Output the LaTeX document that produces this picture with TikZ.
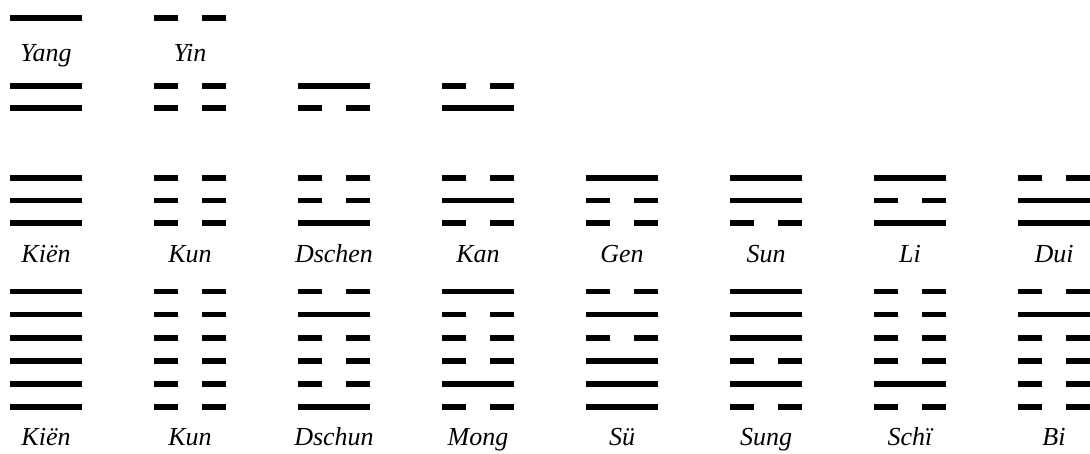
\documentclass[tikz,border=0pt]{standalone}
\usepackage{fontspec}
\setmainfont{Liberation Serif}
\tikzset{
  bar/.style={line width=5.6pt, line cap=butt, black},
  lab/.style={font=\fontsize{26}{29}\selectfont\itshape, inner sep=0pt, anchor=base}
}
\newcommand\gualine[3]{%
  \ifnum#3=1
    \draw[bar] (#1,#2) -- ++(72,0);
  \else
    \draw[bar] (#1,#2) -- ++(24,0);
    \draw[bar] (#1+48,#2) -- ++(24,0);
  \fi}
\begin{document}
\begin{tikzpicture}[x=1pt,y=-1pt]
\useasboundingbox (0,0) rectangle (1090,453);
% row 1: single lines
\gualine{10}{18}{1}
\gualine{154}{18}{0}
\node[lab] (yang) at (46,61) {Yang};
\node[lab] (yin) at (190,61) {Yin};
% row 2: digrams
\foreach \pat [count=\c from 0] in {{1,1},{0,0},{1,0},{0,1}}{
  \foreach \t [count=\i from 0] in \pat {\gualine{10+144*\c}{86+22*\i}{\t}}
}
% row 3: trigrams
\foreach \pat [count=\c from 0] in {{1,1,1},{0,0,0},{0,0,1},{0,1,0},{1,0,0},{1,1,0},{1,0,1},{0,1,1}}{
  \foreach \t [count=\i from 0] in \pat {\gualine{10+144*\c}{178+22.6*\i}{\t}}
}
\foreach \name [count=\c from 0] in {Kiën,Kun,Dschen,Kan,Gen,Sun,Li,Dui}{
  \node[lab] (tri\c) at (46+144*\c,262.5) {\name};
}
% row 4: hexagrams
\foreach \pat [count=\c from 0] in {{1,1,1,1,1,1},{0,0,0,0,0,0},{0,1,0,0,0,1},{1,0,0,0,1,0},{0,1,0,1,1,1},{1,1,1,0,1,0},{0,0,0,0,1,0},{0,1,0,0,0,0}}{
  \foreach \t [count=\i from 0] in \pat {\gualine{10+144*\c}{291.5+23.1*\i}{\t}}
}
\foreach \name [count=\c from 0] in {Kiën,Kun,Dschun,Mong,Sü,Sung,Schï,Bi}{
  \node[lab] (hex\c) at (46+144*\c,445.5) {\name};
}
\end{tikzpicture}
\end{document}
